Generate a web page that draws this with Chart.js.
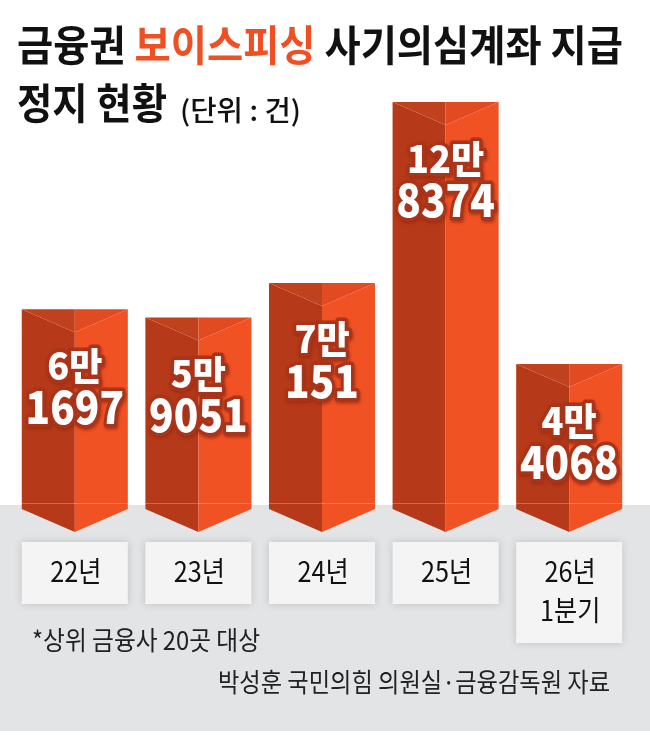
<!DOCTYPE html>
<html>
<head>
<meta charset="utf-8">
<script src="https://cdn.jsdelivr.net/npm/chart.js@4"></script>
<style>
  html, body { margin: 0; padding: 0; background: #fff; }
  #wrap { width: 650px; height: 735px; }
</style>
</head>
<body>
<div id="wrap"><canvas id="fraudChart" width="650" height="735"></canvas></div>
<script>
// 데이터
const categories = ['22년', '23년', '24년', '25년', ['26년', '1분기']];
const counts = [61697, 59051, 70151, 128374, 44068];
const yTicks = [0, 140000];

const FONT = '"Noto Sans CJK KR", "Noto Sans", sans-serif';

// 가로로 눌러서 폭 맞추기 (좁은 글꼴 흉내)
function drawScaled(ctx, text, x, y, targetW) {
    const w = ctx.measureText(text).width;
    ctx.save();
    ctx.translate(x, y);
    ctx.scale(targetW / w, 1);
    ctx.fillText(text, 0, 0);
    ctx.restore();
}

const prismPlugin = {
    id: 'prism',
    beforeDatasetsDraw(chart) {
        const ctx = chart.ctx;
        ctx.save();
        // 바닥
        ctx.fillStyle = '#e3e4e6';
        ctx.fillRect(0, 505, 650, 226);

        // 제목
        const segs = [['금융권 ', '#111111'], ['보이스피싱', '#ef4f22'], [' 사기의심계좌 지급', '#111111']];
        ctx.font = '700 42px ' + FONT;
        ctx.textBaseline = 'middle';
        ctx.textAlign = 'left';
        const full = segs.map(s => s[0]).join('');
        const sx = 606 / ctx.measureText(full).width;
        let x = 17;
        segs.forEach(([t, c]) => {
            ctx.save();
            ctx.translate(x, 45);
            ctx.scale(sx, 1);
            ctx.fillStyle = c;
            ctx.fillText(t, 0, 0);
            ctx.restore();
            x += ctx.measureText(t).width * sx;
        });
        ctx.fillStyle = '#111111';
        drawScaled(ctx, '정지 현황', 17, 103, 150);
        ctx.font = '500 28px ' + FONT;
        drawScaled(ctx, '(단위 : 건)', 180, 110, 121);
        ctx.restore();
    },
    afterDatasetsDraw(chart) {
        const ctx = chart.ctx;
        const meta = chart.getDatasetMeta(0);
        ctx.save();
        meta.data.forEach((bar, i) => {
            const p = bar.getProps(['x', 'y', 'base', 'width'], true);
            const l = p.x - p.width / 2, r = p.x + p.width / 2;
            const top = p.y, roof = top + 23;
            const side = p.base + 8, tip = p.base + 31;
            // 왼쪽 면
            ctx.fillStyle = '#b63a19';
            ctx.beginPath();
            ctx.moveTo(l, top); ctx.lineTo(p.x, roof); ctx.lineTo(p.x, tip); ctx.lineTo(l, side);
            ctx.closePath(); ctx.fill();
            // 오른쪽 면
            ctx.fillStyle = '#f05224';
            ctx.beginPath();
            ctx.moveTo(p.x, roof); ctx.lineTo(r, top); ctx.lineTo(r, side); ctx.lineTo(p.x, tip);
            ctx.closePath(); ctx.fill();
            // 윗면
            ctx.fillStyle = '#c0411d';
            ctx.beginPath();
            ctx.moveTo(l, top); ctx.lineTo(p.x, top); ctx.lineTo(p.x, roof);
            ctx.closePath(); ctx.fill();
            ctx.fillStyle = '#e24b21';
            ctx.beginPath();
            ctx.moveTo(p.x, top); ctx.lineTo(r, top); ctx.lineTo(p.x, roof);
            ctx.closePath(); ctx.fill();
        });
        // 바닥 경계선
        ctx.fillStyle = 'rgba(255,255,255,0.25)';
        ctx.fillRect(0, 503, 650, 1);

        // 값 라벨
        ctx.textAlign = 'center';
        ctx.textBaseline = 'middle';
        ctx.lineJoin = 'round';
        meta.data.forEach((bar, i) => {
            const v = counts[i];
            const lines = [Math.floor(v / 10000) + '만', String(v % 10000)];
            const fonts = ['900 38px ' + FONT, '900 46px ' + FONT];
            const scales = [0.95, 0.88];
            const offs = [56, 97];
            lines.forEach((t, k) => {
                ctx.font = fonts[k];
                ctx.save();
                ctx.translate(bar.x, bar.y + offs[k]);
                ctx.scale(scales[k], 1);
                ctx.save();
                ctx.shadowColor = 'rgba(150,40,15,0.7)';
                ctx.shadowOffsetX = 1;
                ctx.shadowOffsetY = 2;
                ctx.shadowBlur = 3;
                ctx.strokeStyle = '#a9341a';
                ctx.lineWidth = 7;
                ctx.strokeText(t, 0, 0);
                ctx.restore();
                ctx.fillStyle = '#ffffff';
                ctx.fillText(t, 0, 0);
                ctx.restore();
            });
        });

        // 항목 상자
        meta.data.forEach((bar, i) => {
            const cat = categories[i];
            const lines = Array.isArray(cat) ? cat : [cat];
            const w = bar.width;
            const h = lines.length > 1 ? 101 : 62;
            ctx.save();
            ctx.shadowColor = 'rgba(0,0,0,0.16)';
            ctx.shadowBlur = 8;
            ctx.fillStyle = '#f4f4f4';
            ctx.fillRect(bar.x - w / 2, 542, w, h);
            ctx.restore();
            ctx.fillStyle = '#111111';
            ctx.font = '400 28px ' + FONT;
            ctx.textAlign = 'center';
            lines.forEach((t, k) => {
                ctx.save();
                ctx.translate(bar.x + 1, 571 + k * 39);
                ctx.scale(0.9, 1);
                ctx.fillText(t, 0, 0);
                ctx.restore();
            });
        });

        // 주석과 출처
        ctx.fillStyle = '#222222';
        ctx.textAlign = 'left';
        ctx.font = '400 26px ' + FONT;
        drawScaled(ctx, '*상위 금융사 20곳 대상', 32, 640, 228);
        drawScaled(ctx, '박성훈 국민의힘 의원실·금융감독원 자료', 218, 682, 392);
        ctx.restore();
    }
};

const ctx = document.getElementById('fraudChart').getContext('2d');
new Chart(ctx, {
    type: 'bar',
    data: {
        labels: categories,
        datasets: [{
            data: counts,
            backgroundColor: 'rgba(0,0,0,0)',
            borderWidth: 0,
            barPercentage: 0.858,
            categoryPercentage: 1
        }]
    },
    options: {
        responsive: false,
        animation: false,
        devicePixelRatio: 1,
        layout: { padding: { top: 66, bottom: 234, left: 13, right: 19 } },
        scales: {
            x: { display: false },
            y: { display: false, min: yTicks[0], max: yTicks[1] }
        },
        plugins: {
            legend: { display: false },
            tooltip: { enabled: false }
        }
    },
    plugins: [prismPlugin]
});
</script>
</body>
</html>
